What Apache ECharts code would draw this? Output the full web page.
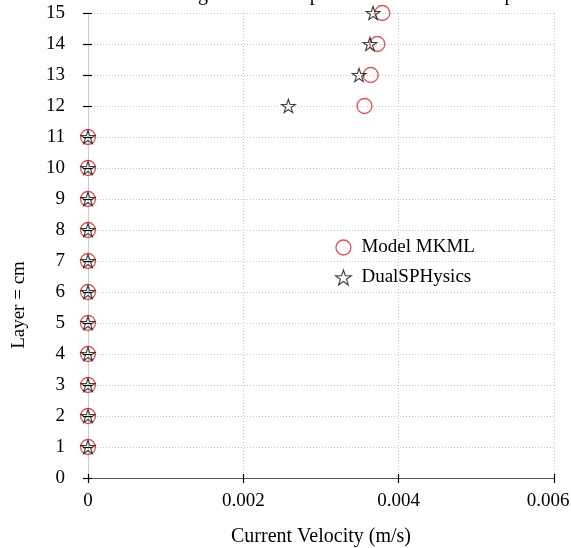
<!DOCTYPE html>
<html>
<head>
<meta charset="utf-8">
<script src="https://cdn.jsdelivr.net/npm/echarts@6/dist/echarts.min.js"></script>
<style>html,body{margin:0;padding:0;background:#fff}#c{width:571px;height:548px}</style>
</head>
<body>
<div id="c"></div>
<script>
var layers = [1,2,3,4,5,6,7,8,9,10,11,12,13,14,15];
var mkmlVel = [0,0,0,0,0,0,0,0,0,0,0,0.00356,0.00364,0.003725,0.00379];
var dualVel = [0,0,0,0,0,0,0,0,0,0,0,0.00258,0.00349,0.00363,0.00367];
var xTicks = {min: 0, max: 0.006, interval: 0.002};
var yTicks = {min: 0, max: 15, interval: 1};
var seriesNames = ['Model MKML', 'DualSPHysics'];
var titleText = 'Flow Rate Change at the Comparison at Last Time Step';

var FONT = '"Liberation Serif", "Times New Roman", serif';
var star = 'path://M100 0 L122.5 69.1 L195.1 69.1 L136.3 111.8 L158.8 180.9 L100 138.2 L41.2 180.9 L63.7 111.8 L4.9 69.1 L77.5 69.1 Z';

function pairs(v){ return v.map(function(x,i){ return [x, layers[i]]; }); }
function fmt(v){
  var s = v === 0 ? '0' : String(+v.toFixed(3));
  return v >= xTicks.max ? '{last|' + s + '}' : s;
}

var chart = echarts.init(document.getElementById('c'), null, {renderer:'canvas'});
chart.setOption({
  animation: false,
  backgroundColor: '#fff',
  grid: {left: 88, right: 17, top: 13, bottom: 70, containLabel: false, outerBoundsMode: 'none'},
  legend: {
    orient: 'vertical', left: 330, top: 233,
    itemWidth: 26, itemHeight: 15, itemGap: 11,
    textStyle: {fontFamily: FONT, fontSize: 19, color: '#000'},
    data: [
      {name: seriesNames[0], icon: 'circle', itemStyle: {color: 'rgba(255,255,255,0)', borderColor: '#d42a2a', borderWidth: 1.3}},
      {name: seriesNames[1], icon: star, itemStyle: {color: 'rgba(255,255,255,0)', borderColor: '#111', borderWidth: 1.1}}
    ]
  },
  graphic: [
    {type: 'text', left: 68, top: -15, style: {text: titleText, font: '20px ' + FONT, fill: '#000'}},
    {type: 'text', x: 19, y: 305, rotation: Math.PI/2, style: {text: 'Layer = cm', font: '19px ' + FONT, fill: '#000', align: 'center', verticalAlign: 'middle'}}
  ],
  xAxis: [{
    type: 'value', min: xTicks.min, max: xTicks.max, interval: xTicks.interval, position: 'bottom',
    name: 'Current Velocity (m/s)', nameLocation: 'middle', nameGap: 49,
    nameTextStyle: {fontFamily: FONT, fontSize: 20, color: '#000'},
    axisLine: {onZero: false, lineStyle: {color: '#555', width: 1}},
    axisTick: {show: true, length: 5, lineStyle: {color: '#000', width: 1.2}},
    axisLabel: {fontFamily: FONT, fontSize: 19, color: '#000', margin: 14, formatter: fmt,
      rich: {last: {fontFamily: FONT, fontSize: 19, color: '#000', padding: [0, 12, 0, 0]}}},
    splitLine: {show: true, lineStyle: {color: '#c4c4c4', type: [1, 2], width: 1}}
  },{
    type: 'value', min: xTicks.min, max: xTicks.max, interval: xTicks.interval, position: 'bottom',
    axisLine: {show: false, onZero: false},
    axisTick: {show: true, inside: true, length: 4, lineStyle: {color: '#000', width: 1.2}},
    axisLabel: {show: false}, splitLine: {show: false}
  }],
  yAxis: [{
    type: 'value', min: yTicks.min, max: yTicks.max, interval: yTicks.interval, position: 'left',
    axisLine: {show: true, onZero: false, lineStyle: {color: '#ccc', width: 1}},
    axisTick: {show: true, length: 5, lineStyle: {color: '#000', width: 1.2}},
    axisLabel: {fontFamily: FONT, fontSize: 19, color: '#000', margin: 23},
    splitLine: {show: true, lineStyle: {color: '#c4c4c4', type: [1, 2], width: 1}}
  },{
    type: 'value', min: yTicks.min, max: yTicks.max, interval: yTicks.interval, position: 'left',
    axisLine: {show: false, onZero: false},
    axisTick: {show: true, inside: true, length: 4, lineStyle: {color: '#000', width: 1.2}},
    axisLabel: {show: false}, splitLine: {show: false}
  }],
  series: [{
    name: seriesNames[0], type: 'scatter', xAxisIndex: 0, yAxisIndex: 0,
    symbol: 'circle', symbolSize: 15,
    itemStyle: {color: 'rgba(255,255,255,0)', borderColor: '#d42a2a', borderWidth: 1.3},
    data: pairs(mkmlVel), z: 3
  },{
    name: seriesNames[1], type: 'scatter', xAxisIndex: 0, yAxisIndex: 0,
    symbol: star, symbolSize: [14, 13.3],
    itemStyle: {color: 'rgba(255,255,255,0)', borderColor: '#111', borderWidth: 1.1},
    data: pairs(dualVel), z: 4
  }]
});
</script>
</body>
</html>
